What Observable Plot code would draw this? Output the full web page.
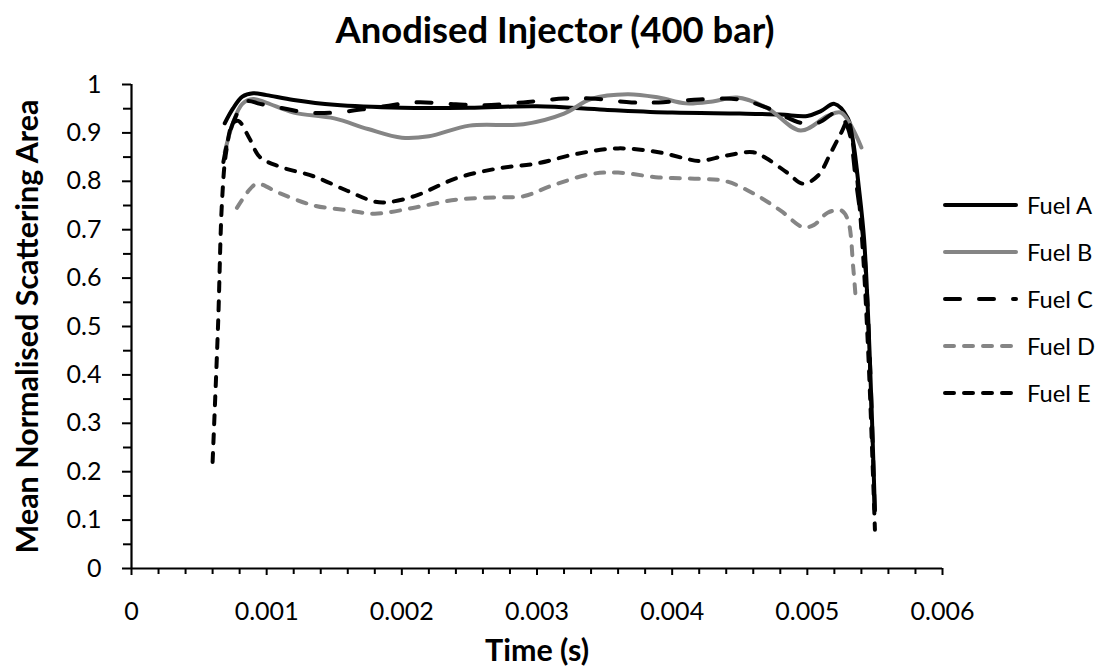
<!DOCTYPE html>
<html>
<head>
<meta charset="utf-8">
<script src="https://cdn.jsdelivr.net/npm/d3@7"></script>
<script src="https://cdn.jsdelivr.net/npm/@observablehq/plot@0.6"></script>
<style>
  body { margin: 0; background: #fff; }
  #chart svg { font-family: Lato, "Open Sans", sans-serif; }
</style>
</head>
<body>
<div id="chart"></div>
<script>
// ---- Data ----
const fuelA_t = [0.00069, 0.00075, 0.00082, 0.0009, 0.001, 0.0012, 0.0015, 0.002, 0.0025, 0.003, 0.0035, 0.004, 0.0045, 0.0048, 0.005, 0.0051, 0.0052, 0.0053, 0.00534, 0.00538, 0.00542, 0.00546, 0.0055];
const fuelA_v = [0.92, 0.95, 0.975, 0.982, 0.978, 0.968, 0.958, 0.952, 0.952, 0.955, 0.948, 0.942, 0.94, 0.938, 0.935, 0.945, 0.96, 0.93, 0.88, 0.79, 0.68, 0.45, 0.12];

const fuelB_t = [0.00069, 0.00075, 0.00082, 0.0009, 0.001, 0.0012, 0.0015, 0.00175, 0.002, 0.0022, 0.0025, 0.0029, 0.0032, 0.0034, 0.00367, 0.0039, 0.0041, 0.0043, 0.00448, 0.0047, 0.00495, 0.00515, 0.00525, 0.0054];
const fuelB_v = [0.86, 0.92, 0.96, 0.97, 0.962, 0.942, 0.93, 0.908, 0.89, 0.893, 0.915, 0.918, 0.94, 0.97, 0.98, 0.973, 0.961, 0.965, 0.973, 0.952, 0.905, 0.935, 0.942, 0.87];

const fuelC_t = [0.00068, 0.00075, 0.00085, 0.00095, 0.0011, 0.0013, 0.0015, 0.0018, 0.0021, 0.0024, 0.0026, 0.0029, 0.0032, 0.0034, 0.0037, 0.0039, 0.0042, 0.0045, 0.0047, 0.00495, 0.00508, 0.00522, 0.0053, 0.00536, 0.00542, 0.00546, 0.0055];
const fuelC_v = [0.84, 0.92, 0.965, 0.96, 0.952, 0.942, 0.942, 0.952, 0.963, 0.959, 0.957, 0.963, 0.971, 0.971, 0.963, 0.963, 0.969, 0.969, 0.952, 0.921, 0.921, 0.942, 0.91, 0.8, 0.66, 0.45, 0.1];

const fuelD_t = [0.00078, 0.00088, 0.00093, 0.0011, 0.00135, 0.0016, 0.0018, 0.0021, 0.0024, 0.0027, 0.0029, 0.0031, 0.0034, 0.0036, 0.0039, 0.0042, 0.0044, 0.0046, 0.0048, 0.00497, 0.00505, 0.00515, 0.00525, 0.0053, 0.00534, 0.00536];
const fuelD_v = [0.745, 0.785, 0.795, 0.775, 0.75, 0.74, 0.733, 0.746, 0.762, 0.767, 0.769, 0.79, 0.815, 0.818, 0.808, 0.805, 0.8, 0.775, 0.74, 0.705, 0.71, 0.735, 0.74, 0.72, 0.62, 0.55];

const fuelE_t = [0.0006, 0.00064, 0.00067, 0.0007, 0.00075, 0.00079, 0.00087, 0.00095, 0.0011, 0.00135, 0.0016, 0.0018, 0.0019, 0.0021, 0.0024, 0.0027, 0.003, 0.0033, 0.0036, 0.0039, 0.0041, 0.0042, 0.0044, 0.0046, 0.0047, 0.00485, 0.00497, 0.00508, 0.00517, 0.00525, 0.0053, 0.00535, 0.0054, 0.00545, 0.0055];
const fuelE_v = [0.22, 0.5, 0.76, 0.86, 0.92, 0.925, 0.89, 0.85, 0.83, 0.81, 0.78, 0.758, 0.757, 0.77, 0.806, 0.826, 0.837, 0.857, 0.868, 0.86, 0.847, 0.842, 0.853, 0.86, 0.847, 0.818, 0.795, 0.812, 0.857, 0.9, 0.925, 0.85, 0.7, 0.45, 0.08];

const seriesNames = ["Fuel A", "Fuel B", "Fuel C", "Fuel D", "Fuel E"];
const xTicks = [0, 0.001, 0.002, 0.003, 0.004, 0.005, 0.006];
const xTickLabels = ["0", "0.001", "0.002", "0.003", "0.004", "0.005", "0.006"];
const yTicks = [0, 0.1, 0.2, 0.3, 0.4, 0.5, 0.6, 0.7, 0.8, 0.9, 1];
const yTickLabels = ["0", "0.1", "0.2", "0.3", "0.4", "0.5", "0.6", "0.7", "0.8", "0.9", "1"];
const xMinorTicks = [0.0002, 0.0004, 0.0006, 0.0008, 0.0012, 0.0014, 0.0016, 0.0018, 0.0022, 0.0024, 0.0026, 0.0028, 0.0032, 0.0034, 0.0036, 0.0038, 0.0042, 0.0044, 0.0046, 0.0048, 0.0052, 0.0054, 0.0056, 0.0058];
const yMinorTicks = [0.05, 0.15, 0.25, 0.35, 0.45, 0.55, 0.65, 0.75, 0.85, 0.95];
const titleText = "Anodised Injector (400 bar)";
const xTitle = "Time (s)";
const yTitle = "Mean Normalised Scattering Area";

// ---- Styles ----
const FONT = "Lato, 'Open Sans', sans-serif";
const styles = {
  "Fuel A": {stroke: "#000000", dash: null},
  "Fuel B": {stroke: "#858585", dash: null},
  "Fuel C": {stroke: "#000000", dash: "15,19"},
  "Fuel D": {stroke: "#858585", dash: "9,10"},
  "Fuel E": {stroke: "#000000", dash: "9,10"}
};

// font sizes fitted to the widths of the reference texts
const ctx = document.createElement("canvas").getContext("2d");
function fit(text, weight, target) {
  ctx.font = `${weight} 100px Lato`;
  return 100 * target / ctx.measureText(text).width;
}
const fsTitle = fit(titleText, "bold", 440);
const fsAxisTitle = fit(yTitle, "bold", 455);
const fsTick = fit("0.001", "normal", 64);
const fsLegend = fit("Fuel A", "normal", 66);

const seriesT = [fuelA_t, fuelB_t, fuelC_t, fuelD_t, fuelE_t];
const seriesV = [fuelA_v, fuelB_v, fuelC_v, fuelD_v, fuelE_v];
const rows = seriesNames.map((name, i) => seriesT[i].map((t, j) => ({fuel: name, t, v: seriesV[i][j]})));

const lineMarks = seriesNames.map((name, i) => Plot.line(rows[i], {
  x: "t", y: "v",
  stroke: styles[name].stroke,
  strokeWidth: 4,
  strokeDasharray: styles[name].dash,
  strokeLinecap: "round",
  strokeLinejoin: "round",
  curve: "catmull-rom"
}));

const W = 1100, H = 666;
const mL = 131, mR = 158, mT = 84, mB = 98;

const chart = Plot.plot({
  width: W, height: H,
  marginLeft: mL, marginRight: mR, marginTop: mT, marginBottom: mB,
  style: {background: "white", fontFamily: FONT, color: "black"},
  x: {domain: [0, 0.006]},
  y: {domain: [0, 1]},
  marks: [
    Plot.axisX(xMinorTicks, {tickSize: 6, strokeWidth: 2, tickFormat: () => "", label: null}),
    Plot.axisX(xTicks, {tickSize: 7, strokeWidth: 2, tickPadding: 36 - 0.36 * fsTick, fontSize: fsTick,
      tickFormat: (d) => xTickLabels[xTicks.indexOf(d)], label: null}),
    Plot.axisY(yMinorTicks, {tickSize: 8, strokeWidth: 2, tickFormat: () => "", label: null}),
    Plot.axisY(yTicks, {tickSize: 9, strokeWidth: 2, tickPadding: 21, fontSize: fsTick,
      tickFormat: (d) => yTickLabels[yTicks.indexOf(d)], label: null}),
    Plot.ruleY([0], {stroke: "black", strokeWidth: 2.2}),
    Plot.ruleX([0], {stroke: "black", strokeWidth: 2.2}),
    ...lineMarks,
    Plot.text([titleText], {frameAnchor: "top", dy: -53, dx: 18, lineAnchor: "middle", textAnchor: "middle",
      fontSize: fsTitle, fontWeight: "bold", fill: "black"}),
    Plot.text([xTitle], {frameAnchor: "bottom", dy: 83, dx: 0, lineAnchor: "middle", textAnchor: "middle",
      fontSize: fsAxisTitle, fontWeight: "bold", fill: "black"}),
    Plot.text([yTitle], {frameAnchor: "left", dx: -103, rotate: -90, lineAnchor: "middle", textAnchor: "middle",
      fontSize: fsAxisTitle, fontWeight: "bold", fill: "black"})
  ]
});

// ---- Legend (right side) ----
const svg = d3.select(chart);
const lg = svg.append("g").attr("font-family", FONT).attr("text-anchor", "start");
seriesNames.forEach((name, i) => {
  const y = 205 + i * 47;
  lg.append("line")
    .attr("x1", 945).attr("x2", 1016).attr("y1", y).attr("y2", y)
    .attr("stroke", styles[name].stroke).attr("stroke-width", 4)
    .attr("stroke-linecap", "round")
    .attr("stroke-dasharray", styles[name].dash);
  lg.append("text")
    .attr("x", 1027).attr("y", y).attr("dy", "0.36em")
    .attr("font-size", fsLegend).attr("fill", "black")
    .attr("text-anchor", "start")
    .text(name);
});

document.getElementById("chart").appendChild(chart);
</script>
</body>
</html>
